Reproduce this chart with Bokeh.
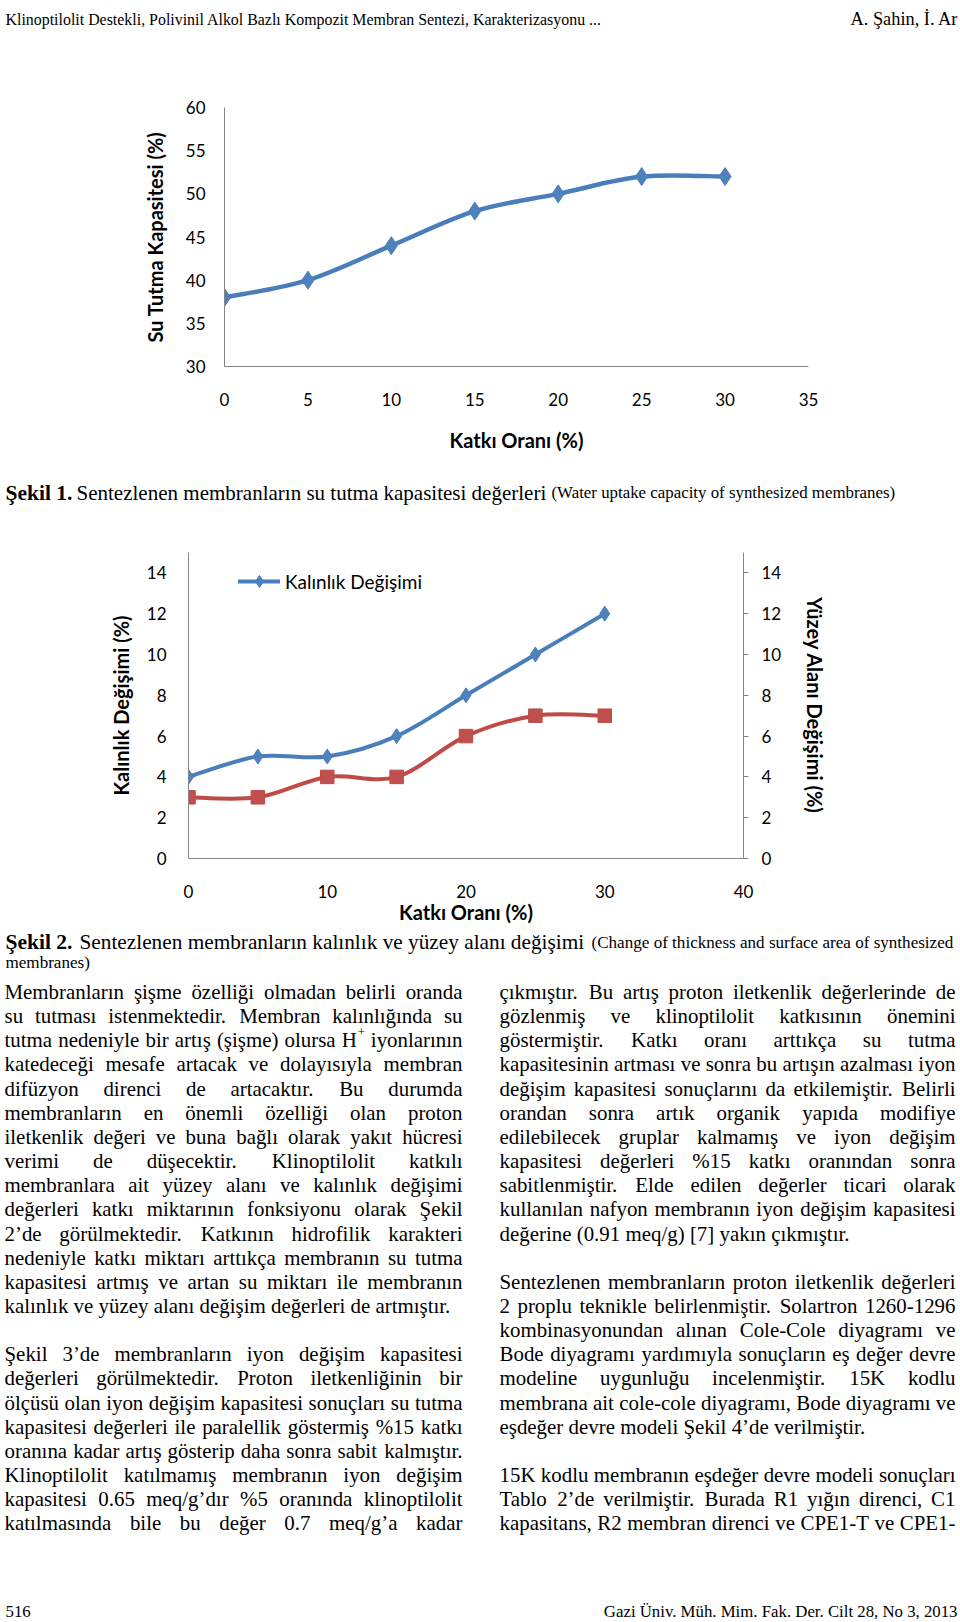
import numpy as np
from bokeh.plotting import figure
from bokeh.models import (Range1d, LinearAxis, FixedTicker, ColumnDataSource,
                          Legend, LegendItem)
from bokeh.layouts import column
from bokeh.embed import file_html
from bokeh.resources import INLINE
from bokeh.core.properties import value

# ---------------- data ----------------
katki_1 = [0, 5, 10, 15, 20, 25, 30]
su_tutma = [38, 40, 44, 48, 50, 52, 52]
x1_ticks = [0, 5, 10, 15, 20, 25, 30, 35]
y1_ticks = [30, 35, 40, 45, 50, 55, 60]

katki_2 = [0, 5, 10, 15, 20, 25, 30]
kalinlik = [4, 5, 5, 6, 8, 10, 12]
yuzey = [3, 3, 4, 4, 6, 7, 7]
x2_ticks = [0, 10, 20, 30, 40]
y2_ticks = [0, 2, 4, 6, 8, 10, 12, 14]

header_left = "Klinoptilolit Destekli, Polivinil Alkol Bazlı Kompozit Membran Sentezi, Karakterizasyonu ..."
header_right = "A. Şahin, İ. Ar"
cap1_bold = "Şekil 1."
cap1_text = "Sentezlenen membranların su tutma kapasitesi değerleri"
cap1_en = "(Water uptake capacity of synthesized membranes)"
cap2_bold = "Şekil 2."
cap2_text = "Sentezlenen membranların kalınlık ve yüzey alanı değişimi"
cap2_en1 = "(Change of thickness and surface area of synthesized"
cap2_en2 = "membranes)"
footer_left = "516"
footer_right = "Gazi Üniv. Müh. Mim. Fak. Der. Cilt 28, No 3, 2013"

left_col = [
    ("Membranların şişme özelliği olmadan belirli oranda", True),
    ("su tutması istenmektedir. Membran kalınlığında su", True),
    ("tutma nedeniyle bir artış (şişme) olursa H^+ iyonlarının", True),
    ("katedeceği mesafe artacak ve dolayısıyla membran", True),
    ("difüzyon direnci de artacaktır. Bu durumda", True),
    ("membranların en önemli özelliği olan proton", True),
    ("iletkenlik değeri ve buna bağlı olarak yakıt hücresi", True),
    ("verimi de düşecektir. Klinoptilolit katkılı", True),
    ("membranlara ait yüzey alanı ve kalınlık değişimi", True),
    ("değerleri katkı miktarının fonksiyonu olarak Şekil", True),
    ("2’de görülmektedir. Katkının hidrofilik karakteri", True),
    ("nedeniyle katkı miktarı arttıkça membranın su tutma", True),
    ("kapasitesi artmış ve artan su miktarı ile membranın", True),
    ("kalınlık ve yüzey alanı değişim değerleri de artmıştır.", False),
    None,
    ("Şekil 3’de membranların iyon değişim kapasitesi", True),
    ("değerleri görülmektedir. Proton iletkenliğinin bir", True),
    ("ölçüsü olan iyon değişim kapasitesi sonuçları su tutma", True),
    ("kapasitesi değerleri ile paralellik göstermiş %15 katkı", True),
    ("oranına kadar artış gösterip daha sonra sabit kalmıştır.", True),
    ("Klinoptilolit katılmamış membranın iyon değişim", True),
    ("kapasitesi 0.65 meq/g’dır %5 oranında klinoptilolit", True),
    ("katılmasında bile bu değer 0.7 meq/g’a kadar", True),
]
right_col = [
    ("çıkmıştır. Bu artış proton iletkenlik değerlerinde de", True),
    ("gözlenmiş ve klinoptilolit katkısının önemini", True),
    ("göstermiştir. Katkı oranı arttıkça su tutma", True),
    ("kapasitesinin artması ve sonra bu artışın azalması iyon", True),
    ("değişim kapasitesi sonuçlarını da etkilemiştir. Belirli", True),
    ("orandan sonra artık organik yapıda modifiye", True),
    ("edilebilecek gruplar kalmamış ve iyon değişim", True),
    ("kapasitesi değerleri %15 katkı oranından sonra", True),
    ("sabitlenmiştir. Elde edilen değerler ticari olarak", True),
    ("kullanılan nafyon membranın iyon değişim kapasitesi", True),
    ("değerine (0.91 meq/g) [7] yakın çıkmıştır.", False),
    None,
    ("Sentezlenen membranların proton iletkenlik değerleri", True),
    ("2 proplu teknikle belirlenmiştir. Solartron 1260-1296", True),
    ("kombinasyonundan alınan Cole-Cole diyagramı ve", True),
    ("Bode diyagramı yardımıyla sonuçların eş değer devre", True),
    ("modeline uygunluğu incelenmiştir. 15K kodlu", True),
    ("membrana ait cole-cole diyagramı, Bode diyagramı ve", True),
    ("eşdeğer devre modeli Şekil 4’de verilmiştir.", False),
    None,
    ("15K kodlu membranın eşdeğer devre modeli sonuçları", True),
    ("Tablo 2’de verilmiştir. Burada R1 yığın direnci, C1", True),
    ("kapasitans, R2 membran direnci ve CPE1-T ve CPE1-", True),
]

# ---------------- styles ----------------
W = 960
SERIF = "Liberation Serif"
CHART_FONT = "Lato"
C_BLUE, C_BLUE_M = "#4A7EBB", "#4F81BD"
C_RED, C_RED_M = "#BE4B48", "#C0504D"
AX = "#868686"

# Times / Liberation Serif advance widths (1/1000 em)
TW = {' ': 250, '!': 333, '"': 408, '%': 833, '&': 778, "'": 180, '(': 333, ')': 333,
      '+': 564, ',': 250, '-': 333, '.': 250, '/': 278, ':': 278, ';': 278, '[': 333,
      ']': 333, '’': 333,
      'A': 722, 'B': 667, 'C': 667, 'D': 722, 'E': 611, 'F': 556, 'G': 722, 'H': 722,
      'I': 333, 'J': 389, 'K': 722, 'L': 611, 'M': 889, 'N': 722, 'O': 722, 'P': 556,
      'Q': 722, 'R': 667, 'S': 556, 'T': 611, 'U': 722, 'V': 722, 'W': 944, 'X': 722,
      'Y': 722, 'Z': 611,
      'a': 444, 'b': 500, 'c': 444, 'd': 500, 'e': 444, 'f': 333, 'g': 500, 'h': 500,
      'i': 278, 'j': 278, 'k': 500, 'l': 278, 'm': 778, 'n': 500, 'o': 500, 'p': 500,
      'q': 500, 'r': 333, 's': 389, 't': 278, 'u': 500, 'v': 500, 'w': 722, 'x': 500,
      'y': 500, 'z': 444,
      'ç': 444, 'ğ': 500, 'ı': 278, 'ö': 500, 'ş': 389, 'ü': 500, 'Ç': 667, 'Ğ': 722,
      'İ': 333, 'Ö': 722, 'Ş': 556, 'Ü': 722}
for d in "0123456789":
    TW[d] = 500
TWB = dict(TW)
TWB.update({'k': 556, 'Ş': 556, 'e': 444})


def tw(s, bold=False):
    tab = TWB if bold else TW
    if s == "H^+":
        return TW['H'] + 0.62 * TW['+'] + 30
    return sum(tab.get(c, 500) for c in s)


def fit(s, width, bold=False):
    return width * 1000.0 / tw(s, bold)


def text_fig(h):
    f = figure(width=W, height=h, x_range=Range1d(0, W), y_range=Range1d(h, 0),
               output_backend="svg", toolbar_location=None, min_border=0,
               x_axis_location=None, y_axis_location=None, frame_align=False)
    f.grid.visible = False
    f.outline_line_color = None
    f.background_fill_color = "white"
    f.border_fill_color = "white"
    return f


def put(f, xs, ys, texts, size, align="left", baseline="alphabetic", style="normal",
        font=SERIF):
    if not texts:
        return
    src = ColumnDataSource(dict(x=xs, y=ys, t=texts))
    f.text(x="x", y="y", text="t", source=src, text_font=value(font),
           text_font_size=value(f"{size:.2f}px"), text_align=align,
           text_baseline=baseline, text_font_style=style, text_color="black")


def layout_column(f, lines, x0, width, y0, lh, fs):
    lx, ly, lt, rx, ry, rt, sx, sy, st = [], [], [], [], [], [], [], [], []
    for i, item in enumerate(lines):
        if item is None:
            continue
        txt, just = item
        words = txt.split(" ")
        wpx = [tw(w) * fs / 1000.0 for w in words]
        if just and len(words) > 1:
            gap = (width - sum(wpx)) / (len(words) - 1)
        else:
            gap = 250 * fs / 1000.0
        x = x0
        y = y0 + lh * i
        for k, (w, ww) in enumerate(zip(words, wpx)):
            if w == "H^+":
                lx.append(x); ly.append(y); lt.append("H")
                sx.append(x + TW['H'] * fs / 1000.0 + 1); sy.append(y - 0.42 * fs); st.append("+")
            elif just and k == len(words) - 1 and len(words) > 1:
                rx.append(x0 + width); ry.append(y); rt.append(w)
            else:
                lx.append(x); ly.append(y); lt.append(w)
            x += ww + gap
    put(f, lx, ly, lt, fs)
    put(f, rx, ry, rt, fs, align="right")
    put(f, sx, sy, st, fs * 0.62)


def style_axis(ax, label, lab_standoff, title_standoff, tick_out=0):
    ax.axis_label = label
    ax.axis_line_color = AX
    ax.axis_line_width = 1
    ax.major_tick_line_color = AX if tick_out else None
    ax.major_tick_out = tick_out
    ax.major_tick_in = 0
    ax.minor_tick_line_color = None
    ax.minor_tick_out = 0
    ax.minor_tick_in = 0
    ax.major_label_text_font = CHART_FONT
    ax.major_label_text_font_size = "17px"
    ax.major_label_text_color = "black"
    ax.major_label_standoff = lab_standoff
    ax.axis_label_text_font = CHART_FONT
    ax.axis_label_text_font_style = "bold"
    ax.axis_label_text_font_size = "20px"
    ax.axis_label_text_color = "black"
    ax.axis_label_standoff = title_standoff


def bezier_source(xs, ys):
    n = len(xs)
    d = dict(x0=[], y0=[], x1=[], y1=[], cx0=[], cy0=[], cx1=[], cy1=[])
    for i in range(n - 1):
        a = max(i - 1, 0)
        b = min(i + 2, n - 1)
        d["x0"].append(xs[i]); d["y0"].append(ys[i])
        d["x1"].append(xs[i + 1]); d["y1"].append(ys[i + 1])
        d["cx0"].append(xs[i] + (xs[i + 1] - xs[a]) / 6.0)
        d["cy0"].append(ys[i] + (ys[i + 1] - ys[a]) / 6.0)
        d["cx1"].append(xs[i + 1] - (xs[b] - xs[i]) / 6.0)
        d["cy1"].append(ys[i + 1] - (ys[b] - ys[i]) / 6.0)
    return ColumnDataSource(d)


def chart_fig(h, xr, yr, left, right, top, bottom):
    p = figure(width=W, height=h, x_range=Range1d(*xr), y_range=Range1d(*yr),
               output_backend="svg", toolbar_location=None,
               min_border_left=left, min_border_right=right,
               min_border_top=top, min_border_bottom=bottom, frame_align=False)
    p.grid.visible = False
    p.outline_line_color = None
    p.background_fill_color = "white"
    p.border_fill_color = "white"
    return p


# ---------------- header (page y 0..80) ----------------
t1 = text_fig(80)
hfs = fit(header_left, 597)
put(t1, [5], [18.5], [header_left], hfs)
put(t1, [850], [18.5], [header_right], fit(header_right, 108))

# ---------------- chart 1 (page y 80..470) ----------------
p1 = chart_fig(390, (0, 35), (30, 60), 224, 152, 27, 104)
p1.xaxis.ticker = FixedTicker(ticks=x1_ticks)
p1.yaxis.ticker = FixedTicker(ticks=y1_ticks)
style_axis(p1.xaxis[0], "Katkı Oranı (%)", 26, 19)
style_axis(p1.yaxis[0], "Su Tutma Kapasitesi (%)", 19, 16)
p1.bezier(x0="x0", y0="y0", x1="x1", y1="y1", cx0="cx0", cy0="cy0", cx1="cx1", cy1="cy1",
          source=bezier_source(katki_1, su_tutma), line_color=C_BLUE, line_width=4.5,
          line_cap="round")
p1.scatter(katki_1, su_tutma, marker="diamond", size=18,
           fill_color=C_BLUE_M, line_color=C_BLUE)

# ---------------- caption 1 (page y 470..530) ----------------
t2 = text_fig(60)
fsb = fit(cap1_bold, 67, bold=True)
put(t2, [5], [22], [cap1_bold], fsb, style="bold")
put(t2, [76], [22], [cap1_text], fit(cap1_text, 470))
put(t2, [551], [22], [cap1_en], fit(cap1_en, 345))

# ---------------- chart 2 (page y 530..927) ----------------
p2 = chart_fig(397, (0, 40), (0, 15), 188, 217, 22, 69)
p2.extra_y_ranges = {"right": Range1d(0, 15)}
p2.xaxis.ticker = FixedTicker(ticks=x2_ticks)
p2.yaxis.ticker = FixedTicker(ticks=y2_ticks)
style_axis(p2.xaxis[0], "Katkı Oranı (%)", 26, -1)
style_axis(p2.yaxis[0], "Kalınlık Değişimi (%)", 22, 11)
ax_r = LinearAxis(y_range_name="right", ticker=FixedTicker(ticks=y2_ticks))
style_axis(ax_r, "Yüzey Alanı Değişimi (%)", 13, 19, tick_out=5)
p2.add_layout(ax_r, "right")

b_blue = p2.bezier(x0="x0", y0="y0", x1="x1", y1="y1", cx0="cx0", cy0="cy0", cx1="cx1",
                   cy1="cy1", source=bezier_source(katki_2, kalinlik), line_color=C_BLUE,
                   line_width=4, line_cap="round")
s_blue = p2.scatter(katki_2, kalinlik, marker="diamond", size=15,
                    fill_color=C_BLUE_M, line_color=C_BLUE)
p2.bezier(x0="x0", y0="y0", x1="x1", y1="y1", cx0="cx0", cy0="cy0", cx1="cx1", cy1="cy1",
          source=bezier_source(katki_2, yuzey), line_color=C_RED, line_width=4,
          line_cap="round", y_range_name="right")
p2.scatter(katki_2, yuzey, marker="square", size=13.5, fill_color=C_RED_M,
           line_color=C_RED, y_range_name="right")

legend = Legend(items=[LegendItem(label="Kalınlık Değişimi", renderers=[b_blue, s_blue])],
                location=(50, 262), glyph_width=42, glyph_height=30, label_height=30,
                label_standoff=5, padding=0, margin=0, border_line_color=None,
                background_fill_alpha=0, label_text_font=CHART_FONT,
                label_text_font_size="19px", label_text_color="black")
p2.add_layout(legend)

# ---------------- caption 2, body, footer (page y 927..1621) ----------------
T3_TOP = 927
t3 = text_fig(694)
put(t3, [5], [941.5 - T3_TOP], [cap2_bold], fsb, style="bold")
put(t3, [79], [941.5 - T3_TOP], [cap2_text], fit(cap2_text, 505))
en_fs = fit(cap2_en1, 362)
put(t3, [591], [941.5 - T3_TOP], [cap2_en1], en_fs)
put(t3, [5], [962 - T3_TOP], [cap2_en2], en_fs)

BODY_FS = 20.9
LH = 24.15
Y0 = 991.5 - T3_TOP
layout_column(t3, left_col, 4, 458, Y0, LH, BODY_FS)
layout_column(t3, right_col, 499, 456, Y0, LH, BODY_FS)

ffs = fit(footer_right, 356)
put(t3, [5], [1610.5 - T3_TOP], [footer_left], ffs)
put(t3, [957], [1610.5 - T3_TOP], [footer_right], ffs, align="right")

page = column(t1, p1, t2, p2, t3, spacing=0)
open("out.html", "w").write(file_html(page, INLINE))
